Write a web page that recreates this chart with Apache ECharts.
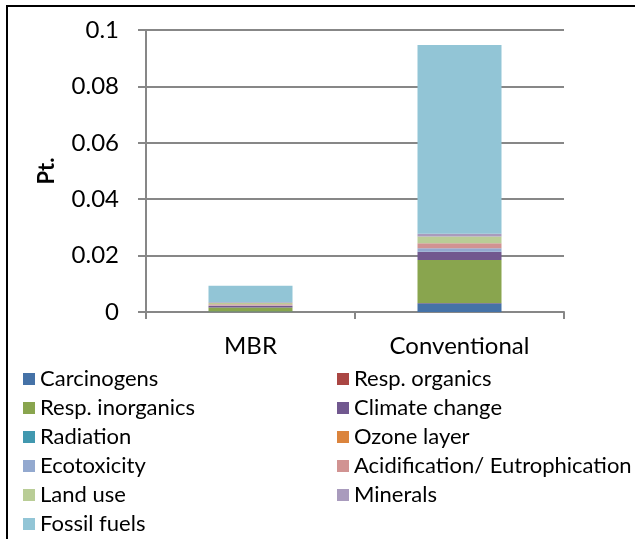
<!DOCTYPE html>
<html>
<head>
<meta charset="utf-8">
<script src="https://cdn.jsdelivr.net/npm/echarts@6/dist/echarts.min.js"></script>
<style>
  html, body { margin: 0; padding: 0; background: #fff; }
  #chart { width: 635px; height: 539px; }
</style>
</head>
<body>
<div id="chart"></div>
<script>
// Damage categories per treatment option (points)
const categories = ['MBR', 'Conventional'];
const seriesNames = [
  'Carcinogens', 'Resp. organics', 'Resp. inorganics', 'Climate change',
  'Radiation', 'Ozone layer', 'Ecotoxicity', 'Acidification/ Eutrophication',
  'Land use', 'Minerals', 'Fossil fuels'
];
const carcinogens    = [0.0002,   0.0031];
const respOrganics   = [0.00002,  0.0001];
const respInorganics = [0.0014,   0.0152];
const climateChange  = [0.0005,   0.0029];
const radiation      = [0.00001,  0.00005];
const ozoneLayer     = [0.000005, 0.00002];
const ecotoxicity    = [0.0002,   0.0012];
const acidification  = [0.0004,   0.0018];
const landUse        = [0.0005,   0.0024];
const minerals       = [0.0002,   0.0010];
const fossilFuels    = [0.0059,   0.0669];
const yTicks = [0, 0.02, 0.04, 0.06, 0.08, 0.1];

const values = [carcinogens, respOrganics, respInorganics, climateChange, radiation,
  ozoneLayer, ecotoxicity, acidification, landUse, minerals, fossilFuels];
const colors = ['#4572A7', '#AA4643', '#89A54E', '#71588F', '#4198AF', '#DB843D',
  '#93A9CF', '#D19392', '#B9CD96', '#A99BBD', '#92C5D6'];

const FONT = 'Lato';
const grey = '#878787';

const chart = echarts.init(document.getElementById('chart'), null, { renderer: 'canvas' });

const legendText = { fontFamily: FONT, fontSize: 22, color: '#000', lineHeight: 22 };
const legendBase = {
  orient: 'vertical', icon: 'rect', itemWidth: 12, itemHeight: 12, itemGap: 7,
  textStyle: legendText, selectedMode: false, padding: 0
};

chart.setOption({
  animation: false,
  color: colors,
  grid: { left: 146, right: 71, top: 30, bottom: 227, containLabel: false },
  xAxis: {
    type: 'category',
    data: categories,
    axisLine: { lineStyle: { color: grey, width: 2 } },
    axisTick: { show: true, length: 7, lineStyle: { color: grey, width: 2 } },
    axisLabel: { fontFamily: FONT, fontSize: 24, color: '#000', margin: 22 }
  },
  yAxis: {
    type: 'value',
    min: yTicks[0],
    max: yTicks[yTicks.length - 1],
    interval: 0.02,
    name: 'Pt.',
    nameLocation: 'middle',
    nameRotate: 90,
    nameGap: 88,
    nameTextStyle: { fontFamily: FONT, fontSize: 22, fontWeight: 'bold', color: '#000' },
    axisLine: { show: true, lineStyle: { color: grey, width: 2 } },
    axisTick: { show: true, length: 8, lineStyle: { color: grey, width: 2 } },
    axisLabel: { fontFamily: FONT, fontSize: 24, color: '#000', margin: 27 },
    splitLine: { show: true, lineStyle: { color: grey, width: 2 } }
  },
  legend: [
    Object.assign({}, legendBase, {
      left: 23, top: 368,
      data: [seriesNames[0], seriesNames[2], seriesNames[4], seriesNames[6], seriesNames[8], seriesNames[10]]
    }),
    Object.assign({}, legendBase, {
      left: 337, top: 368,
      data: [seriesNames[1], seriesNames[3], seriesNames[5], seriesNames[7], seriesNames[9]]
    })
  ],
  graphic: [{
    type: 'rect',
    shape: { x: 7, y: 6, width: 700, height: 600 },
    style: { fill: 'none', stroke: '#000', lineWidth: 2 },
    silent: true
  }],
  series: seriesNames.map((name, i) => ({
    name: name,
    type: 'bar',
    stack: 'total',
    barWidth: 84,
    data: values[i],
    itemStyle: { color: colors[i] }
  }))
});
</script>
</body>
</html>
